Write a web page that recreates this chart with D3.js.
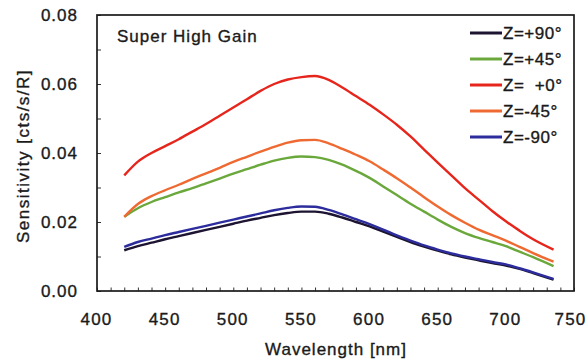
<!DOCTYPE html>
<html>
<head>
<meta charset="utf-8">
<script src="https://cdn.jsdelivr.net/npm/d3@7"></script>
<style>
  body { margin: 0; background: #fff; }
  text { font-family: "Liberation Sans", Arial, sans-serif; fill: #1a1a1a; stroke: #1a1a1a; stroke-width: 0.35px; }
</style>
</head>
<body>
<div id="chart"></div>
<script>
// wavelength samples [nm]
const wavelengths = [420, 430, 440, 450, 460, 470, 480, 490, 500, 510, 520, 530, 540, 550, 560,
  570, 580, 590, 600, 610, 620, 630, 640, 650, 660, 670, 680, 690, 700, 710, 720, 735];

// sensitivity [cts/s/R] per zenith angle
const zPlus90 = [0.0118, 0.0130, 0.0140, 0.0150, 0.0159, 0.0168, 0.0177, 0.0186, 0.0195, 0.0204,
  0.0212, 0.0220, 0.0226, 0.0230, 0.0230, 0.0224, 0.0213, 0.0200, 0.0187, 0.0172, 0.0157, 0.0142,
  0.0129, 0.0117, 0.0106, 0.0097, 0.0089, 0.0081, 0.0074, 0.0064, 0.0052, 0.0033];
const zPlus45 = [0.0215, 0.0240, 0.0258, 0.0272, 0.0286, 0.0298, 0.0312, 0.0326, 0.0340, 0.0353,
  0.0366, 0.0378, 0.0386, 0.0390, 0.0388, 0.0380, 0.0366, 0.0348, 0.0328, 0.0303, 0.0278, 0.0253,
  0.0230, 0.0207, 0.0186, 0.0168, 0.0154, 0.0142, 0.0130, 0.0114, 0.0098, 0.0072];
const zZero = [0.0335, 0.0375, 0.0400, 0.0420, 0.0440, 0.0462, 0.0484, 0.0508, 0.0532, 0.0556,
  0.0580, 0.0600, 0.0613, 0.0620, 0.0623, 0.0612, 0.0590, 0.0565, 0.0540, 0.0512, 0.0482, 0.0448,
  0.0410, 0.0372, 0.0335, 0.0298, 0.0265, 0.0232, 0.0202, 0.0175, 0.0150, 0.0120];
const zMinus45 = [0.0215, 0.0252, 0.0275, 0.0292, 0.0308, 0.0325, 0.0341, 0.0357, 0.0374, 0.0389,
  0.0404, 0.0418, 0.0430, 0.0437, 0.0438, 0.0428, 0.0412, 0.0395, 0.0376, 0.0352, 0.0327, 0.0300,
  0.0272, 0.0245, 0.0220, 0.0198, 0.0178, 0.0162, 0.0146, 0.0128, 0.0110, 0.0085];
const zMinus90 = [0.0128, 0.0142, 0.0152, 0.0162, 0.0171, 0.0180, 0.0189, 0.0198, 0.0207, 0.0216,
  0.0225, 0.0234, 0.0241, 0.0245, 0.0244, 0.0235, 0.0222, 0.0208, 0.0194, 0.0178, 0.0161, 0.0146,
  0.0132, 0.0120, 0.0109, 0.0100, 0.0092, 0.0084, 0.0077, 0.0066, 0.0054, 0.0035];

const seriesNames = ["Z=+90°", "Z=+45°", "Z=  +0°", "Z=-45°", "Z=-90°"];
const seriesValues = [zPlus90, zPlus45, zZero, zMinus45, zMinus90];
const seriesColors = ["#1c1430", "#6aa83c", "#e6261c", "#ef6a32", "#2c2c9c"];

const xTicks = [400, 450, 500, 550, 600, 650, 700, 750];
const yTicks = [0, 0.02, 0.04, 0.06, 0.08];

const width = 587, height = 362;
const margin = { top: 15, right: 13, bottom: 71, left: 97 };
const innerW = width - margin.left - margin.right;
const innerH = height - margin.top - margin.bottom;

const svg = d3.select("#chart").append("svg")
  .attr("width", width).attr("height", height);

const chart = svg.append("g")
  .attr("transform", `translate(${margin.left},${margin.top})`);

const x = d3.scaleLinear().domain([400, 750]).range([0, innerW]);
const y = d3.scaleLinear().domain([0, 0.08]).range([innerH, 0]);

// minor ticks, pointing into the plot
chart.append("g")
  .attr("transform", `translate(0,${innerH})`)
  .call(d3.axisTop(x).tickValues(d3.range(400, 751, 10)).tickSize(3.5).tickFormat(""))
  .call(g => g.select(".domain").remove())
  .selectAll("line").attr("stroke", "#333");
chart.append("g")
  .call(d3.axisRight(y).tickValues(d3.range(0, 0.0801, 0.01)).tickSize(4).tickFormat(""))
  .call(g => g.select(".domain").remove())
  .selectAll("line").attr("stroke", "#333");

// major tick labels
const xAxis = chart.append("g")
  .attr("transform", `translate(0,${innerH})`)
  .call(d3.axisBottom(x).tickValues(xTicks).tickSize(0).tickPadding(22).tickFormat(d3.format("d")));
xAxis.select(".domain").remove();
xAxis.selectAll("text")
  .attr("fill", null)
  .attr("dx", d => (d === 750 ? -4 : -1))
  .style("font-size", "17px")
  .style("letter-spacing", "1.2px");

const yAxis = chart.append("g")
  .call(d3.axisLeft(y).tickValues(yTicks).tickSize(0).tickPadding(19).tickFormat(d3.format(".2f")));
yAxis.select(".domain").remove();
yAxis.selectAll("text")
  .attr("fill", null)
  .style("font-size", "17px")
  .style("letter-spacing", "1px");

// frame
chart.append("rect")
  .attr("width", innerW).attr("height", innerH)
  .attr("fill", "none").attr("stroke", "#1a1a1a").attr("stroke-width", 1.7);

// curves
const line = d3.line()
  .x((d, i) => x(wavelengths[i]))
  .y(d => y(d))
  .curve(d3.curveMonotoneX);

chart.selectAll(".series")
  .data(seriesValues)
  .join("path")
  .attr("class", "series")
  .attr("d", line)
  .attr("fill", "none")
  .attr("stroke", (d, i) => seriesColors[i])
  .attr("stroke-width", 2.4);

// inset title
chart.append("text")
  .attr("x", 20).attr("y", 27)
  .style("font-size", "17px")
  .style("letter-spacing", "1px")
  .text("Super High Gain");

// legend
const legend = chart.append("g").attr("transform", "translate(373,18)");
const rows = legend.selectAll(".row")
  .data(seriesNames)
  .join("g")
  .attr("class", "row")
  .attr("transform", (d, i) => `translate(0,${i * 26})`);
rows.append("line")
  .attr("x1", 0).attr("x2", 32)
  .attr("stroke", (d, i) => seriesColors[i])
  .attr("stroke-width", 3);
rows.append("text")
  .attr("x", 33).attr("dy", "0.36em")
  .style("font-size", "17px")
  .style("letter-spacing", "0.5px")
  .style("white-space", "pre")
  .text(d => d);

// axis titles
svg.append("text")
  .attr("x", 336).attr("y", 355)
  .attr("text-anchor", "middle")
  .style("font-size", "17px")
  .style("letter-spacing", "1px")
  .text("Wavelength [nm]");
svg.append("text")
  .attr("transform", "translate(29,156) rotate(-90)")
  .attr("text-anchor", "middle")
  .style("font-size", "17px")
  .style("letter-spacing", "1.5px")
  .text("Sensitivity [cts/s/R]");
</script>
</body>
</html>
